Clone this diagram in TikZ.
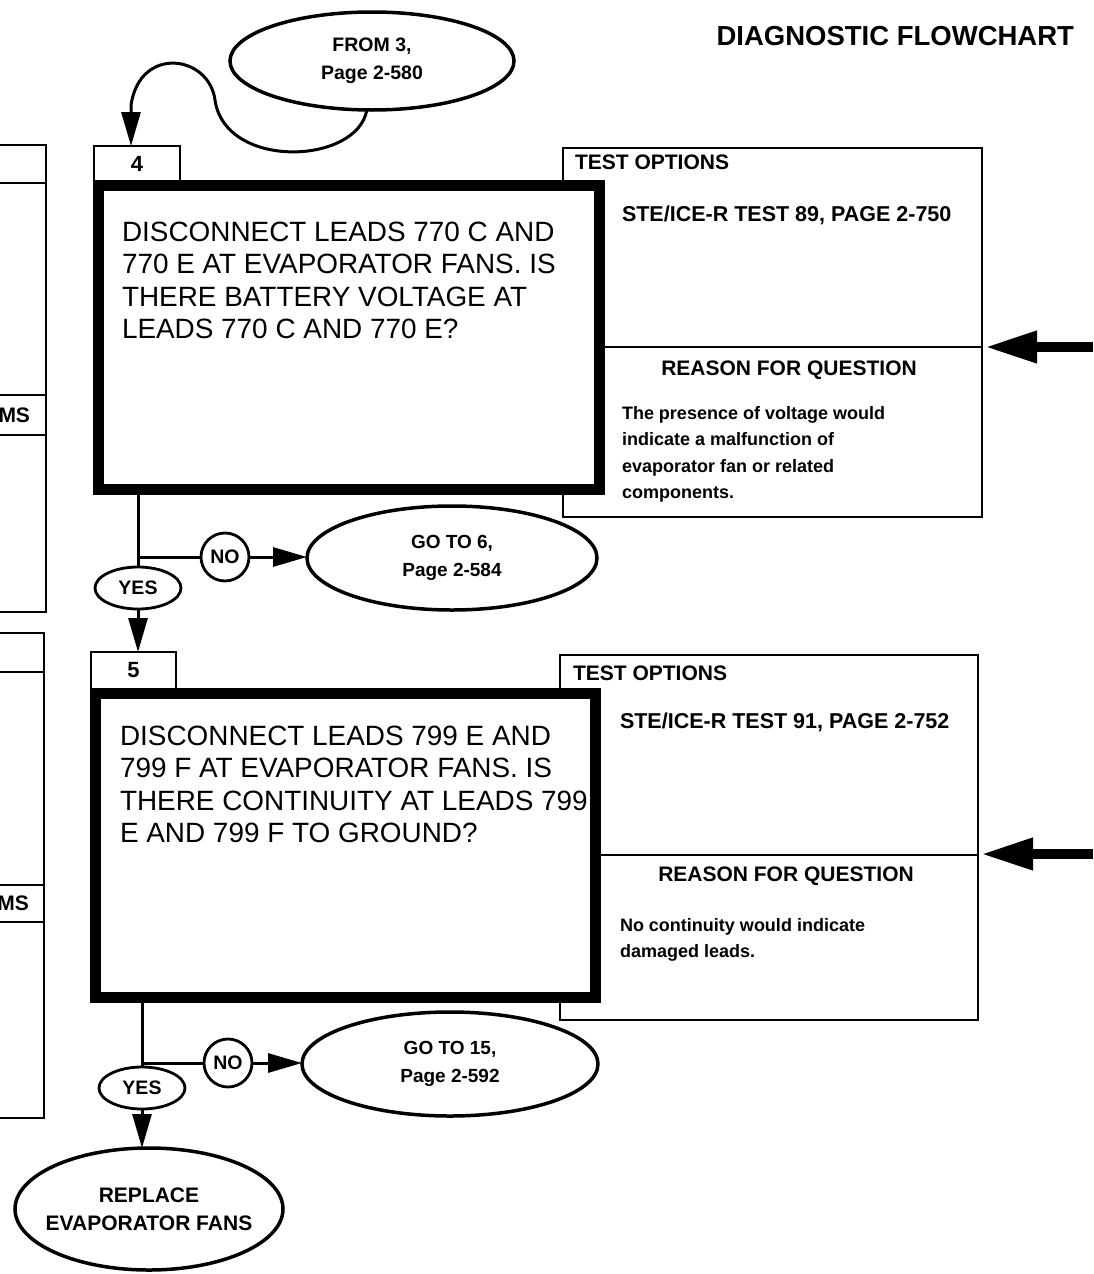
\documentclass[tikz,border=0pt]{standalone}
\usepackage{fontspec}
\setmainfont{Liberation Sans}
\usetikzlibrary{shapes.geometric,arrows.meta}
\begin{document}
\begin{tikzpicture}[x=1pt,y=-1pt,
  every node/.style={inner sep=0pt, outer sep=0pt},
  tline/.style={line width=2.5pt},
  tbox/.style={draw, line width=2.5pt, rectangle},
  qbox/.style={draw, fill=white, line width=11pt, rectangle},
  numbox/.style={draw, fill=white, line width=2.5pt, rectangle, font=\bfseries\fontsize{22}{24}\selectfont},
  conn/.style={line width=3pt},
  arr/.style={-{Triangle[length=34pt,width=19pt]}},
  bigarrow/.style={line width=10pt,-{Triangle[length=52pt,width=30pt]}},
  oval/.style={draw, ellipse, line width=3.5pt, align=center},
  yesell/.style={draw, ellipse, line width=2.8pt, minimum width=86pt, minimum height=42pt, font=\bfseries\fontsize{19.5}{22}\selectfont},
  nocirc/.style={draw, circle, line width=2.8pt, minimum size=48pt, font=\bfseries\fontsize{19.5}{22}\selectfont},
  hdr/.style={font=\bfseries\fontsize{21}{24}\selectfont},
  qtext/.style={align=left, font=\fontsize{27.9}{32.5}\selectfont},
  rtext/.style={align=left, font=\bfseries\fontsize{18}{26.5}\selectfont},
  elltext/.style={font=\bfseries\fontsize{19}{27.5}\selectfont}
]
\useasboundingbox (0,0) rectangle (1093,1274);
\clip (0,0) rectangle (1093,1274);

% title
\node[anchor=east, font=\bfseries\fontsize{27.5}{30}\selectfont] (title) at (1074,36) {DIAGNOSTIC FLOWCHART};

% left partial boxes
\draw[tline] (-10,145) -| (46,612) -- (-10,612);
\draw[tline] (-10,183) -- (46,183);
\draw[tline] (-10,395) -- (46,395);
\draw[tline] (-10,435) -- (46,435);
\node[anchor=east, hdr] (lms) at (30,415) {MS};
\draw[tline] (-10,633) -| (44,1118) -- (-10,1118);
\draw[tline] (-10,672) -- (44,672);
\draw[tline] (-10,885) -- (44,885);
\draw[tline] (-10,922) -- (44,922);
\node[anchor=east, hdr] (lis) at (29,903) {MS};

% ---------- block 4 ----------
\node[oval, minimum width=284pt, minimum height=98pt, font=\bfseries\fontsize{19.5}{28}\selectfont] (from3) at (372,61) {FROM 3,\\Page 2-580};
\node[tbox, minimum width=419pt, minimum height=369pt] (test4) at (772.5,332.5) {};
\node[numbox, minimum width=86pt, minimum height=36pt] (box4) at (137,164) {4};
\node[qbox, minimum width=501pt, minimum height=304pt] (q4) at (349,337.5) {};
\coordinate (d4) at (600,347);
\draw[tline] (q4.east |- d4) -- (test4.east |- d4);
\coordinate (r4) at (1093,347);
\draw[bigarrow, shorten >=3pt] (r4) -- (test4.east |- r4);

\node[anchor=north west, qtext] (qt4) at (122,222) {DISCONNECT LEADS 770 C AND\\770 E AT EVAPORATOR FANS. IS\\THERE BATTERY VOLTAGE AT\\LEADS 770 C AND 770 E?};
\node[anchor=west, hdr] (to4) at (575,162) {TEST OPTIONS};
\node[anchor=west, hdr, font=\bfseries\fontsize{21.5}{24}\selectfont] (ste4) at (622,215) {STE/ICE-R TEST 89, PAGE 2-750};
\node[hdr] (rq4) at (789,370) {REASON FOR QUESTION};
\node[anchor=north west, rtext] (rt4) at (622,406) {The presence of voltage would\\indicate a malfunction of\\evaporator fan or related\\components.};

\draw[conn, arr] (from3.264) .. controls (357,165) and (225,170) .. (215,100)
   .. controls (209,55) and (140,45) .. (131,105) -- ([xshift=-6pt]box4.north);

\node[yesell] (yes4) at (138,588) {YES};
\node[nocirc] (no4) at (225,557) {NO};
\node[oval, minimum width=290pt, minimum height=104pt, elltext] (go6) at (452,558) {GO TO 6,\\Page 2-584};
\draw[conn] (yes4.north |- q4.south) -- (yes4.north);
\draw[conn] (yes4.north |- no4) -- (no4.west);
\draw[conn, arr] (no4.east) -- (no4.east -| go6.west);

% ---------- block 5 ----------
\node[tbox, minimum width=418pt, minimum height=365pt] (test5) at (769,837.5) {};
\node[numbox, minimum width=85pt, minimum height=37pt] (box5) at (133.5,670.5) {5};
\node[qbox, minimum width=500pt, minimum height=304pt] (q5) at (345.5,845.5) {};
\coordinate (d5) at (600,855);
\draw[tline] (q5.east |- d5) -- (test5.east |- d5);
\coordinate (r5) at (1093,854);
\draw[bigarrow, shorten >=3pt] (r5) -- (test5.east |- r5);

\draw[conn, arr] (yes4.south) -- (yes4.south |- box5.north);

\node[anchor=north west, qtext] (qt5) at (120,726) {DISCONNECT LEADS 799 E AND\\799 F AT EVAPORATOR FANS. IS\\THERE CONTINUITY AT LEADS 799\\E AND 799 F TO GROUND?};
\node[anchor=west, hdr] (to5) at (573,673) {TEST OPTIONS};
\node[anchor=west, hdr, font=\bfseries\fontsize{21.5}{24}\selectfont] (ste5) at (620,722) {STE/ICE-R TEST 91, PAGE 2-752};
\node[hdr] (rq5) at (786,876) {REASON FOR QUESTION};
\node[anchor=north west, rtext] (rt5) at (620,918) {No continuity would indicate\\damaged leads.};

\node[yesell] (yes5) at (142,1088) {YES};
\node[nocirc] (no5) at (228,1063) {NO};
\node[oval, minimum width=296pt, minimum height=104pt, elltext] (go15) at (450,1064) {GO TO 15,\\Page 2-592};
\node[oval, minimum width=268pt, minimum height=122pt] (rep) at (149,1209) {};
\node[align=center, font=\bfseries\fontsize{21}{28}\selectfont] (reptext) at (rep.center) {REPLACE\\EVAPORATOR FANS};
\draw[conn] (yes5.north |- q5.south) -- (yes5.north);
\draw[conn] (yes5.north |- no5) -- (no5.west);
\draw[conn, arr] (no5.east) -- (no5.east -| go15.west);
\draw[conn, arr] (yes5.south) -- (yes5.south |- rep.north);
\end{tikzpicture}
\end{document}
